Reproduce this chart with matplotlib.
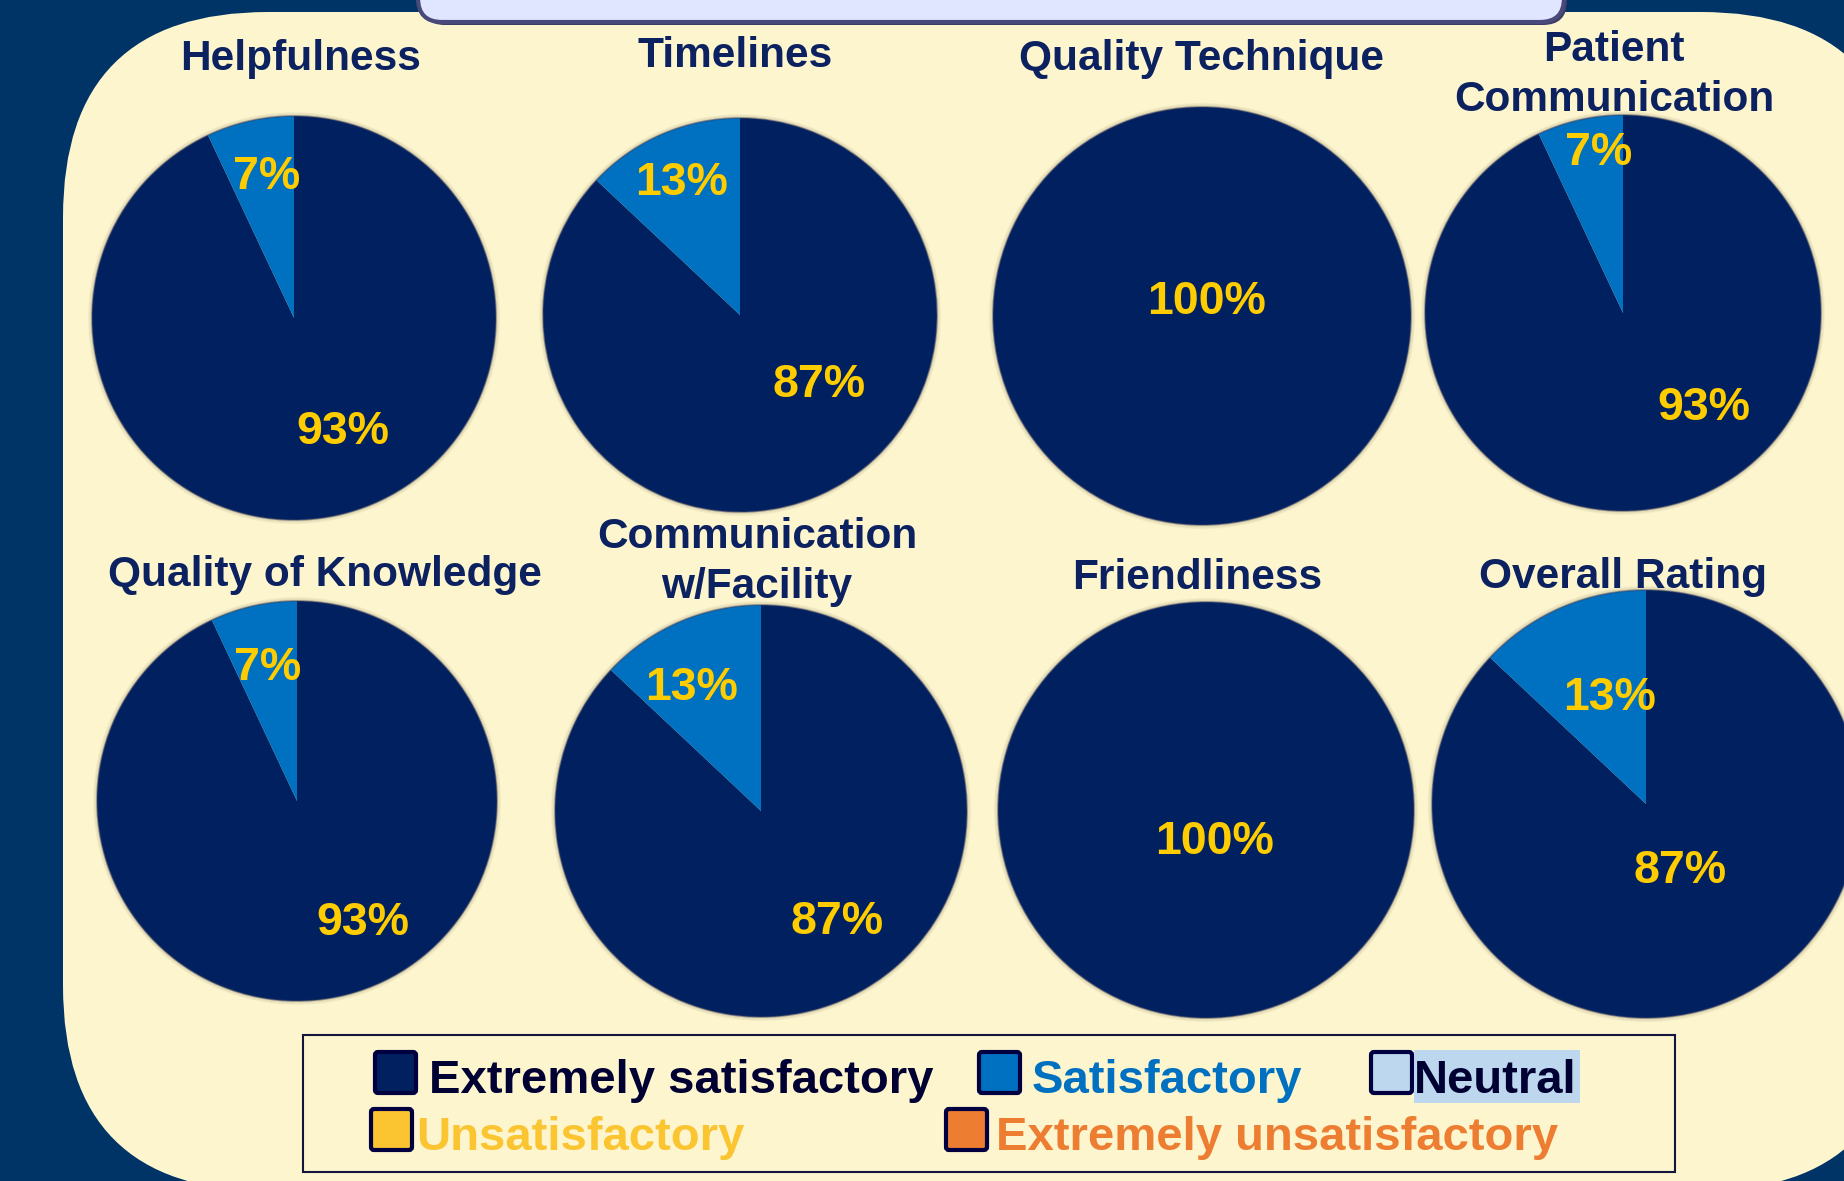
import matplotlib
matplotlib.use("Agg")
import matplotlib.pyplot as plt
from matplotlib.patches import FancyBboxPatch, Rectangle, Circle

plt.rcParams["font.family"] = ["Liberation Sans", "DejaVu Sans"]
plt.rcParams["font.weight"] = "bold"

# survey results, percent of responses per rating
categories = ["Helpfulness", "Timelines", "Quality Technique", "Patient\nCommunication",
              "Quality of Knowledge", "Communication\nw/Facility", "Friendliness", "Overall Rating"]
extremely_satisfactory = [93, 87, 100, 93, 93, 87, 100, 87]
satisfactory = [7, 13, 0, 7, 7, 13, 0, 13]
neutral = [0, 0, 0, 0, 0, 0, 0, 0]
unsatisfactory = [0, 0, 0, 0, 0, 0, 0, 0]
extremely_unsatisfactory = [0, 0, 0, 0, 0, 0, 0, 0]

ratings = ["Extremely satisfactory", "Satisfactory", "Neutral", "Unsatisfactory", "Extremely unsatisfactory"]
slice_colors = ["#002060", "#0070C0", "#BDD7EE", "#FBC531", "#ED7D31"]
rating_text_colors = ["#000033", "#0070C0", "#000033", "#FBC531", "#ED7D31"]

# layout (pixels on the 1844x1181 canvas)
W, H = 1844, 1181
pie_centers = [(294, 318), (740, 315), (1202, 316), (1623, 313),
               (297, 801), (761, 811), (1206, 810), (1646, 804)]
pie_radii = [202, 197, 209, 198, 200, 206, 208, 214]
title_pos = [(301, 70), (735, 67), (1201, 70), (1614, 61),
             (325, 586), (757, 548), (1197, 589), (1623, 588)]
# label centres, one per non-zero slice, in slice order
label_pos = [
    [(343, 427), (267, 172)],
    [(819, 380), (682, 178)],
    [(1207, 297)],
    [(1704, 403), (1599, 148)],
    [(363, 918), (268, 663)],
    [(837, 917), (692, 683)],
    [(1215, 837)],
    [(1680, 866), (1610, 693)],
]
legend_rows = [[(375, 429), (979, 1032), (1371, 1414)], [(371, 416), (946, 996)]]
legend_baselines = [1093, 1150]

TITLE_COLOR = "#0B2160"
LABEL_COLOR = "#FFCC00"

fig = plt.figure(figsize=(W / 100, H / 100), dpi=100)
fig.patch.set_facecolor("#003366")

bg = fig.add_axes([0, 0, 1, 1])
bg.set_xlim(0, W)
bg.set_ylim(H, 0)
bg.axis("off")

bg.add_patch(FancyBboxPatch((63, 12), 1843, 1179, boxstyle="round,pad=0,rounding_size=205",
                            fc="#FDF5CE", ec="none"))
bg.add_patch(FancyBboxPatch((421, -60), 1146, 85, boxstyle="round,pad=0,rounding_size=24",
                            fc="#3C3C66", ec="none"))
bg.add_patch(FancyBboxPatch((418, -60), 1146, 82, boxstyle="round,pad=0,rounding_size=24",
                            fc="#E0E6FF", ec="#4A4A7A", lw=3))

# pies
for i, cat in enumerate(categories):
    cx, cy = pie_centers[i]
    r = pie_radii[i]
    m = 1.1
    ax = fig.add_axes([(cx - m * r) / W, (H - cy - m * r) / H, 2 * m * r / W, 2 * m * r / H])
    # soft blurred rim
    for k in range(5, 0, -1):
        ax.add_patch(Circle((0, 0), 1 + k * 0.004, fc="#5A4E30", ec="none", alpha=0.045))
    vals = [extremely_satisfactory[i], satisfactory[i], neutral[i],
            unsatisfactory[i], extremely_unsatisfactory[i]]
    ax.pie(vals, colors=slice_colors, startangle=90, counterclock=False,
           wedgeprops=dict(linewidth=0))
    ax.add_patch(Circle((0, 0), 1, fc="none", ec="#3A4060", lw=1.2, alpha=0.5))
    ax.set_xlim(-m, m)
    ax.set_ylim(-m, m)
    ax.axis("off")

# text overlay
top = fig.add_axes([0, 0, 1, 1])
top.set_xlim(0, W)
top.set_ylim(H, 0)
top.axis("off")
top.patch.set_alpha(0)

label_size = 33.5
cap_half = 0.716 * label_size * 100 / 72 / 2
for i, cat in enumerate(categories):
    tx, ty = title_pos[i]
    for j, line in enumerate(cat.split("\n")):
        top.text(tx, ty + j * 50, line, ha="center", va="baseline", fontsize=30.5,
                 color=TITLE_COLOR, fontweight="bold")
    vals = [extremely_satisfactory[i], satisfactory[i], neutral[i],
            unsatisfactory[i], extremely_unsatisfactory[i]]
    shown = [v for v in vals if v > 0]
    for v, (lx, ly) in zip(shown, label_pos[i]):
        top.text(lx, ly + cap_half, f"{v}%", ha="center", va="baseline", fontsize=label_size,
                 color=LABEL_COLOR, fontweight="bold")

# legend
top.add_patch(Rectangle((303, 1035), 1372, 137, fc="none", ec="#14143C", lw=1.5))
k = 0
for row, items in enumerate(legend_rows):
    base = legend_baselines[row]
    for sx, txt_x in items:
        top.add_patch(FancyBboxPatch((sx, base - 41), 41, 41, boxstyle="round,pad=0,rounding_size=3",
                                     fc=slice_colors[k], ec="#000040", lw=3))
        if ratings[k] == "Neutral":
            top.add_patch(Rectangle((txt_x, base - 43), 166, 53, fc="#BDD7EE", ec="none"))
        top.text(txt_x, base, ratings[k], ha="left", va="baseline", fontsize=34,
                 color=rating_text_colors[k], fontweight="bold")
        k += 1

fig.savefig("out.png", dpi=100, facecolor=fig.get_facecolor())
